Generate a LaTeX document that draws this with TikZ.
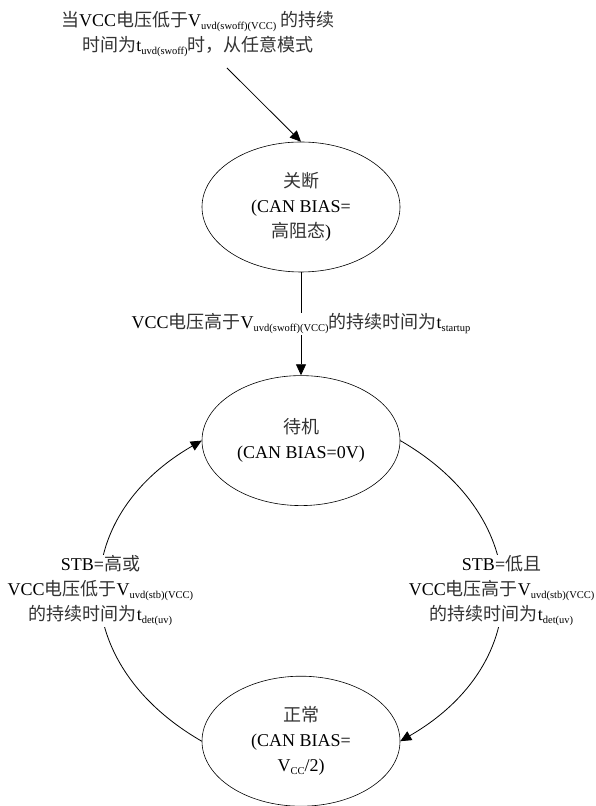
\documentclass[tikz,border=0pt]{standalone}
\usepackage{fontspec}
\setmainfont{Liberation Serif}
\newfontfamily\cjk{Noto Sans CJK SC}
\usetikzlibrary{shapes.geometric,arrows.meta,positioning}

% Chinese words are set in the CJK family
\newcommand{\zh}[1]{{\cjk\color{black!80}#1}}
% Small lowered index (V_uvd, t_det, ...)
\newcommand{\lo}[1]{\raisebox{-0.35ex}{\fontsize{10.5}{11}\selectfont #1}}

\begin{document}
\begin{tikzpicture}[x=1pt,y=1pt,
    font=\fontsize{18}{25}\selectfont,
    state/.style={ellipse, draw, line width=0.6pt, minimum width=198pt,
      minimum height=130pt, inner sep=0pt, align=center},
    cond/.style={fill=white, align=center, inner sep=1pt},
    trans/.style={-{Triangle[length=11pt,width=10pt]}, line width=0.8pt}]

    % Page size (same as the reference)
    \pgfmathsetmacro{\pw}{595}
    \pgfmathsetmacro{\ph}{806}
    \useasboundingbox (0,0) rectangle (\pw,\ph);

    % The three states, top to bottom
    \node[state] (off) at (301,599) {\zh{关断}\\(CAN BIAS=\\\zh{高阻态})};
    \node[state, below=103pt of off] (stby) {\zh{待机}\\(CAN BIAS=0V)};
    \node[state, below=170pt of stby] (norm) {\zh{正常}\\(CAN BIAS=\\V\lo{CC}/2)};

    % Entry from any mode
    \node[cond] (anymode) at (198,772)
      {\zh{当}VCC\zh{电压低于}V\lo{uvd(swoff)(VCC)} \zh{的持续}\\
       \zh{时间为}t\lo{uvd(swoff)}\zh{时，从任意模式}};
    \coordinate (entry) at (227,738);
    \draw[trans] (entry) -- (off.north);

    % Power up: off -> standby
    \draw[trans] (off) -- node[cond] (upcond)
      {VCC\zh{电压高于}V\lo{uvd(swoff)(VCC)}\zh{的持续时间为}t\lo{startup}} (stby);

    % Normal -> standby (left side)
    \draw[trans] (norm.west) to[out=150, in=210, looseness=1.33]
      node[cond] (lcond) {STB=\zh{高或}\\VCC\zh{电压低于}V\lo{uvd(stb)(VCC)}\\
        \zh{的持续时间为}t\lo{det(uv)}} (stby.west);

    % Standby -> normal (right side)
    \draw[trans] (stby.east) to[out=-30, in=30, looseness=1.33]
      node[cond] (rcond) {STB=\zh{低且}\\VCC\zh{电压高于}V\lo{uvd(stb)(VCC)}\\
        \zh{的持续时间为}t\lo{det(uv)}} (norm.east);

\end{tikzpicture}
\end{document}
